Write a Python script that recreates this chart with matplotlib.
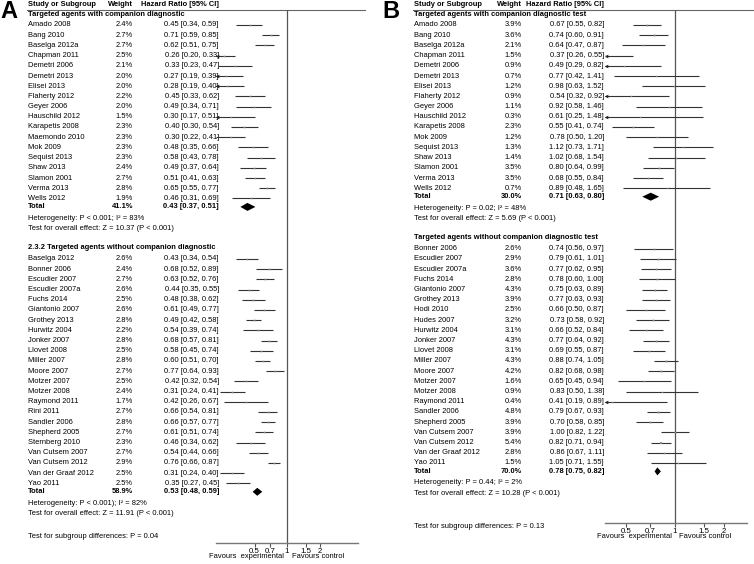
import numpy as np
import matplotlib.pyplot as plt
from matplotlib.patches import Polygon

plt.rcParams['font.family'] = ['Liberation Sans', 'DejaVu Sans']

# ---------------- data: panel A ----------------
a1_names = ["Amado 2008", "Bang 2010", "Baselga 2012a", "Chapman 2011", "Demetri 2006",
            "Demetri 2013", "Elisei 2013", "Flaherty 2012", "Geyer 2006", "Hauschild 2012",
            "Karapetis 2008", "Maemondo 2010", "Mok 2009", "Sequist 2013", "Shaw 2013",
            "Slamon 2001", "Verma 2013", "Wells 2012"]
a1_w = [2.4, 2.7, 2.7, 2.5, 2.1, 2.0, 2.0, 2.2, 2.0, 1.5, 2.3, 2.3, 2.3, 2.3, 2.4, 2.7, 2.8, 1.9]
a1_hr = [0.45, 0.71, 0.62, 0.26, 0.33, 0.27, 0.28, 0.45, 0.49, 0.30, 0.40, 0.30, 0.48, 0.58, 0.49, 0.51, 0.65, 0.46]
a1_lo = [0.34, 0.59, 0.51, 0.20, 0.23, 0.19, 0.19, 0.33, 0.34, 0.17, 0.30, 0.22, 0.35, 0.43, 0.37, 0.41, 0.55, 0.31]
a1_hi = [0.59, 0.85, 0.75, 0.33, 0.47, 0.39, 0.40, 0.62, 0.71, 0.51, 0.54, 0.41, 0.66, 0.78, 0.64, 0.63, 0.77, 0.69]
a1_tot = (41.1, 0.43, 0.37, 0.51)

a2_names = ["Baselga 2012", "Bonner 2006", "Escudier 2007", "Escudier 2007a", "Fuchs 2014",
            "Giantonio 2007", "Grothey 2013", "Hurwitz 2004", "Jonker 2007", "Llovet 2008",
            "Miller 2007", "Moore 2007", "Motzer 2007", "Motzer 2008", "Raymond 2011",
            "Rini 2011", "Sandler 2006", "Shepherd 2005", "Sternberg 2010", "Van Cutsem 2007",
            "Van Cutsem 2012", "Van der Graaf 2012", "Yao 2011"]
a2_w = [2.6, 2.4, 2.7, 2.6, 2.5, 2.6, 2.8, 2.2, 2.8, 2.5, 2.8, 2.7, 2.5, 2.4, 1.7, 2.7, 2.8, 2.7,
        2.3, 2.7, 2.9, 2.5, 2.5]
a2_hr = [0.43, 0.68, 0.63, 0.44, 0.48, 0.61, 0.49, 0.54, 0.68, 0.58, 0.60, 0.77, 0.42, 0.31, 0.42,
         0.66, 0.66, 0.61, 0.46, 0.54, 0.76, 0.31, 0.35]
a2_lo = [0.34, 0.52, 0.52, 0.35, 0.38, 0.49, 0.42, 0.39, 0.57, 0.45, 0.51, 0.64, 0.32, 0.24, 0.26,
         0.54, 0.57, 0.51, 0.34, 0.44, 0.66, 0.24, 0.27]
a2_hi = [0.54, 0.89, 0.76, 0.55, 0.62, 0.77, 0.58, 0.74, 0.81, 0.74, 0.70, 0.93, 0.54, 0.41, 0.67,
         0.81, 0.77, 0.74, 0.62, 0.66, 0.87, 0.40, 0.45]
a2_tot = (58.9, 0.53, 0.48, 0.59)

# ---------------- data: panel B ----------------
b1_names = ["Amado 2008", "Bang 2010", "Baselga 2012a", "Chapman 2011", "Demetri 2006",
            "Demetri 2013", "Elisei 2013", "Flaherty 2012", "Geyer 2006", "Hauschild 2012",
            "Karapetis 2008", "Mok 2009", "Sequist 2013", "Shaw 2013", "Slamon 2001",
            "Verma 2013", "Wells 2012"]
b1_w = [3.9, 3.6, 2.1, 1.5, 0.9, 0.7, 1.2, 0.9, 1.1, 0.3, 2.3, 1.2, 1.3, 1.4, 3.5, 3.5, 0.7]
b1_hr = [0.67, 0.74, 0.64, 0.37, 0.49, 0.77, 0.98, 0.54, 0.92, 0.61, 0.55, 0.78, 1.12, 1.02, 0.80, 0.68, 0.89]
b1_lo = [0.55, 0.60, 0.47, 0.26, 0.29, 0.42, 0.63, 0.32, 0.58, 0.25, 0.41, 0.50, 0.73, 0.68, 0.64, 0.55, 0.48]
b1_hi = [0.82, 0.91, 0.87, 0.55, 0.82, 1.41, 1.52, 0.92, 1.46, 1.48, 0.74, 1.20, 1.71, 1.54, 0.99, 0.84, 1.65]
b1_tot = (30.0, 0.71, 0.63, 0.80)

b2_names = ["Bonner 2006", "Escudier 2007", "Escudier 2007a", "Fuchs 2014", "Giantonio 2007",
            "Grothey 2013", "Hodi 2010", "Hudes 2007", "Hurwitz 2004", "Jonker 2007",
            "Llovet 2008", "Miller 2007", "Moore 2007", "Motzer 2007", "Motzer 2008",
            "Raymond 2011", "Sandler 2006", "Shepherd 2005", "Van Cutsem 2007",
            "Van Cutsem 2012", "Van der Graaf 2012", "Yao 2011"]
b2_w = [2.6, 2.9, 3.6, 2.8, 4.3, 3.9, 2.5, 3.2, 3.1, 4.3, 3.1, 4.3, 4.2, 1.6, 0.9, 0.4, 4.8, 3.9,
        3.9, 5.4, 2.8, 1.5]
b2_hr = [0.74, 0.79, 0.77, 0.78, 0.75, 0.77, 0.66, 0.73, 0.66, 0.77, 0.69, 0.88, 0.82, 0.65, 0.83,
         0.41, 0.79, 0.70, 1.00, 0.82, 0.86, 1.05]
b2_lo = [0.56, 0.61, 0.62, 0.60, 0.63, 0.63, 0.50, 0.58, 0.52, 0.64, 0.55, 0.74, 0.68, 0.45, 0.50,
         0.19, 0.67, 0.58, 0.82, 0.71, 0.67, 0.71]
b2_hi = [0.97, 1.01, 0.95, 1.00, 0.89, 0.93, 0.87, 0.92, 0.84, 0.92, 0.87, 1.05, 0.98, 0.94, 1.38,
         0.89, 0.93, 0.85, 1.22, 0.94, 1.11, 1.55]
b2_tot = (70.0, 0.78, 0.75, 0.82)

ticks = [0.5, 0.7, 1, 1.5, 2]
tick_labels = ["0.5", "0.7", "1", "1.5", "2"]

W, H = 754, 564
fs = 5.4
fig = plt.figure(figsize=(W / 100, H / 100), dpi=100)
bg = fig.add_axes([0, 0, 1, 1])
bg.set_xlim(0, W)
bg.set_ylim(H, 0)
bg.axis('off')


def panel(letter, lx, cols, xr, lims, y_axis, groups, sub_text, sub_y, sp=10.2):
    xn, xw, xh = cols
    x0, x1 = xr
    bg.text(lx, 12, letter, fontsize=17, fontweight='bold', va='center', ha='left')
    bg.text(xn, 4.5, "Study or Subgroup", fontsize=fs, fontweight='bold', va='center')
    bg.text(xw, 4.5, "Weight", fontsize=fs, fontweight='bold', va='center', ha='right')
    bg.text(xh, 4.5, "Hazard Ratio [95% CI]", fontsize=fs, fontweight='bold', va='center', ha='right')
    bg.plot([xn - 1, x1 + 7], [10, 10], color='#666666', lw=0.8)

    ax = fig.add_axes([x0 / W, 1 - y_axis / H, (x1 - x0) / W, (y_axis - 10) / H])
    ax.set_xscale('log')
    ax.set_xlim(*lims)
    ax.set_ylim(y_axis, 10)
    ax.patch.set_alpha(0)
    for s in ['left', 'right', 'top']:
        ax.spines[s].set_visible(False)
    ax.spines['bottom'].set_color('#777777')
    ax.spines['bottom'].set_linewidth(1.0)
    ax.set_yticks([])
    ax.set_xticks(ticks)
    ax.set_xticklabels(tick_labels)
    ax.minorticks_off()
    ax.tick_params(axis='x', labelsize=fs + 0.3, length=3, width=0.8, color='#555555', pad=0.5)
    ax.axvline(1, color='#555555', lw=0.9)

    # favours labels, placed just left / right of the null line
    x_one = x0 + (x1 - x0) * np.log(1 / lims[0]) / np.log(lims[1] / lims[0])
    bg.text(x_one - 3, y_axis + 14, "Favours  experimental", ha='right', va='center', fontsize=fs)
    bg.text(x_one + 4.5, y_axis + 14, "Favours control", ha='left', va='center', fontsize=fs)

    y = 14
    for head, names, w, hr, lo, hi, tot, het, zt in groups:
        bg.text(xn, y, head, fontsize=fs, fontweight='bold', va='center')
        y += 11
        for i in range(len(names)):
            yy = y + i * sp
            bg.text(xn, yy, names[i], fontsize=fs, va='center')
            bg.text(xw, yy, "%.1f%%" % w[i], fontsize=fs, va='center', ha='right')
            bg.text(xh, yy, "%.2f [%.2f, %.2f]" % (hr[i], lo[i], hi[i]), fontsize=fs,
                    va='center', ha='right')
            left = max(lo[i], lims[0])
            ax.plot([left, hi[i]], [yy, yy], color='#333333', lw=0.8, solid_capstyle='butt')
            if lo[i] < lims[0]:
                ax.plot([lims[0] * 1.02], [yy], marker='<', ms=2.6, color='#222222', mew=0)
            ax.plot([hr[i]], [yy], marker='s', ms=0.9 + 0.1 * w[i], color='#8a8a8a', mew=0)
        yt = y + (len(names) - 1) * sp + 8.5
        bg.text(xn, yt, "Total", fontsize=fs, fontweight='bold', va='center')
        bg.text(xw, yt, "%.1f%%" % tot[0], fontsize=fs, fontweight='bold', va='center', ha='right')
        bg.text(xh, yt, "%.2f [%.2f, %.2f]" % tot[1:], fontsize=fs, fontweight='bold',
                va='center', ha='right')
        ax.add_patch(Polygon([[tot[2], yt], [tot[1], yt - 4], [tot[3], yt], [tot[1], yt + 4]],
                             closed=True, color='black', lw=0))
        bg.text(xn, yt + 11.5, het, fontsize=fs, va='center')
        bg.text(xn, yt + 22, zt, fontsize=fs, va='center')
        y = yt + 41
    bg.text(xn, sub_y, sub_text, fontsize=fs, va='center')


panel("A", 0, (28, 133, 219), (216, 358), (0.22, 4.54), 543,
      [("Targeted agents with companion diagnostic", a1_names, a1_w, a1_hr, a1_lo, a1_hi, a1_tot,
        "Heterogeneity: P < 0.001; I² = 83%", "Test for overall effect: Z = 10.37 (P < 0.001)"),
       ("2.3.2 Targeted agents without companion diagnostic", a2_names, a2_w, a2_hr, a2_lo, a2_hi,
        a2_tot, "Heterogeneity: P < 0.001); I² = 82%",
        "Test for overall effect: Z = 11.91 (P < 0.001)")],
      "Test for subgroup differences: P = 0.04", 537)

panel("B", 382, (414, 522, 604), (605, 747), (0.372, 2.77), 523,
      [("Targeted agents with companion diagnostic test", b1_names, b1_w, b1_hr, b1_lo, b1_hi,
        b1_tot, "Heterogeneity: P = 0.02; I² = 48%",
        "Test for overall effect: Z = 5.69 (P < 0.001)"),
       ("Targeted agents without companion diagnostic test", b2_names, b2_w, b2_hr, b2_lo, b2_hi,
        b2_tot, "Heterogeneity: P = 0.44; I² = 2%",
        "Test for overall effect: Z = 10.28 (P < 0.001)")],
      "Test for subgroup differences: P = 0.13", 526)

fig.savefig("out.png", dpi=100)
